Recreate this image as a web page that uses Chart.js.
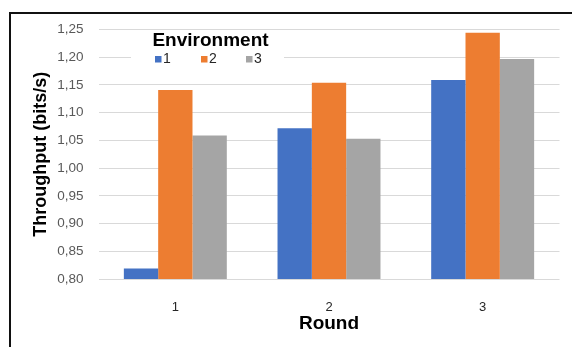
<!DOCTYPE html>
<html>
<head>
<meta charset="utf-8">
<script src="https://cdn.jsdelivr.net/npm/chart.js@4/dist/chart.umd.min.js"></script>
<style>
  html, body { margin: 0; padding: 0; background: #fff; }
  body { width: 572px; height: 347px; position: relative; overflow: hidden; }
  .frame { position: absolute; left: 9px; top: 12px; width: 700px; height: 500px;
           border-top: 2px solid #111; border-left: 2px solid #111; }
  #wrap { position: absolute; left: 0; top: 0; width: 572px; height: 347px; }
</style>
</head>
<body>
<div class="frame"></div>
<div id="wrap"><canvas id="chart" width="572" height="347"></canvas></div>
<script>
// Throughput per round, one series per environment
const rounds = ['1', '2', '3'];
const environments = ['1', '2', '3'];
const env1 = [0.819, 1.072, 1.159];
const env2 = [1.141, 1.154, 1.244];
const env3 = [1.059, 1.053, 1.197];
const colors = ['#4472C4', '#ED7D31', '#A5A5A5'];

const yMin = 0.80, yMax = 1.25, yStep = 0.05;
const fmt = v => v.toFixed(2).replace('.', ',');

const FONT = "'Liberation Sans', Arial, sans-serif";

// Legend drawn inside the plot area, on a white panel over the grid
const innerLegend = {
  id: 'innerLegend',
  afterDraw(chart) {
    const ctx = chart.ctx;
    ctx.save();
    ctx.fillStyle = '#fff';
    ctx.fillRect(131, 31, 153, 36);
    ctx.fillStyle = '#000';
    ctx.font = 'bold 19px ' + FONT;
    ctx.textAlign = 'center';
    ctx.textBaseline = 'middle';
    ctx.fillText('Environment', 210.5, 41);
    const xs = [155, 201, 246];
    ctx.font = '14px ' + FONT;
    ctx.textAlign = 'left';
    chart.data.datasets.forEach((ds, i) => {
      ctx.fillStyle = ds.backgroundColor;
      ctx.fillRect(xs[i], 56, 6.5, 6.5);
      ctx.fillStyle = '#262626';
      ctx.fillText(ds.label, xs[i] + 8, 59.5);
    });
    ctx.restore();
  }
};

new Chart(document.getElementById('chart'), {
  type: 'bar',
  data: {
    labels: rounds,
    datasets: [env1, env2, env3].map((d, i) => ({
      label: environments[i],
      data: d,
      backgroundColor: colors[i],
      borderWidth: 0,
      categoryPercentage: 0.67,
      barPercentage: 1.0
    }))
  },
  options: {
    responsive: false,
    animation: false,
    layout: { padding: { left: 0, right: 12.5, top: 29.5, bottom: 0 } },
    plugins: { legend: { display: false }, tooltip: { enabled: false } },
    scales: {
      x: {
        grid: { display: false },
        border: { display: false },
        ticks: { color: '#262626', font: { family: FONT, size: 13 }, padding: 13 },
        title: { display: true, text: 'Round', color: '#000',
                 font: { family: FONT, size: 19, weight: 'bold' },
                 padding: { top: 0, bottom: 12 } },
        afterFit: s => { s.height = 68; }
      },
      y: {
        min: yMin, max: yMax,
        grid: { color: '#d9d9d9', lineWidth: 1, drawTicks: false },
        border: { display: false },
        ticks: { stepSize: yStep, color: '#595959', padding: 15,
                 font: { family: FONT, size: 13.5 },
                 callback: v => fmt(v) },
        title: { display: true, text: 'Throughput (bits/s)', color: '#000',
                 font: { family: FONT, size: 18, weight: 'bold' },
                 padding: { top: 30, bottom: 0 } },
        afterFit: s => { s.width = 98.5; }
      }
    }
  },
  plugins: [innerLegend]
});
</script>
</body>
</html>
